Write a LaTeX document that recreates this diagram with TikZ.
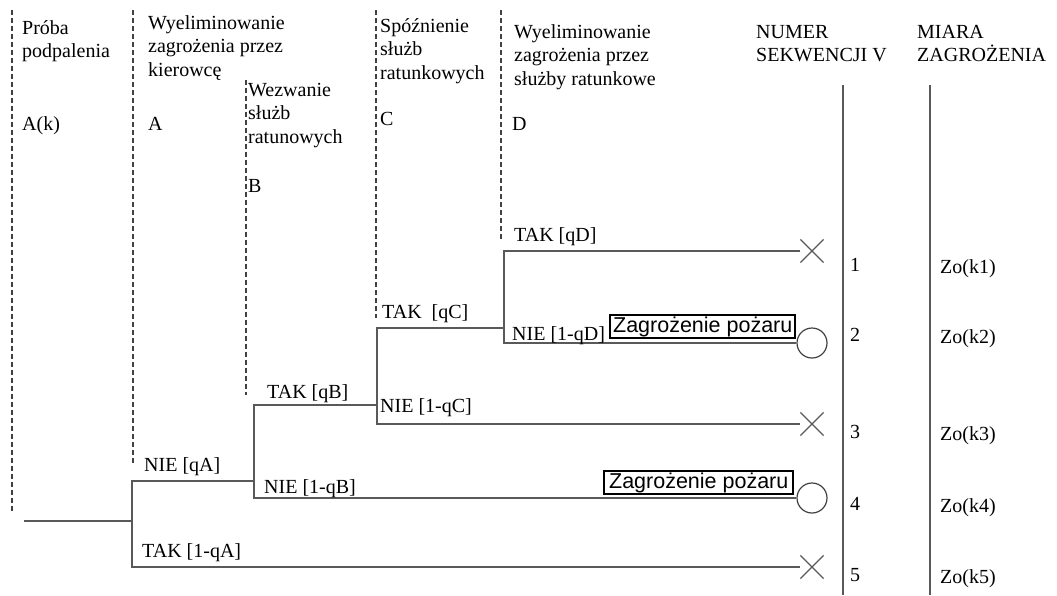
\documentclass[tikz,border=0pt]{standalone}
\usepackage{fontspec}
\setmainfont{Liberation Serif}
\newfontfamily\bezszeryf{Liberation Sans}
\usetikzlibrary{shapes.misc}

\tikzset{
  galaz/.style={line width=1.5pt, black!65},
  podzial/.style={line width=1.3pt, black!75, dash pattern=on 5pt off 3pt},
  opis/.style={anchor=base west, inner sep=0pt, font=\fontsize{20}{23.5}\selectfont},
  naglowek/.style={anchor=north west, inner sep=0pt, align=left, font=\fontsize{20}{23.5}\selectfont},
  krzyz/.style={draw=black!65, line width=1.2pt, cross out, minimum size=22pt, inner sep=0pt},
  kolko/.style={draw=black!75, line width=1.2pt, circle, minimum size=30pt, inner sep=0pt},
  pozar/.style={draw, line width=2pt, inner xsep=3pt, inner ysep=1.5pt, anchor=south east, font=\bezszeryf\fontsize{21.5}{24}\selectfont}
}

\begin{document}
\begin{tikzpicture}[x=1pt, y=-1pt]
  \useasboundingbox (0,0) rectangle (1057,595);

  % kolumny drzewa
  \draw[podzial] (12,10) -- (12,512);
  \draw[podzial] (133,10) -- (133,463);
  \draw[podzial] (246,80) -- (246,395);
  \draw[podzial] (376,10) -- (376,318);
  \draw[podzial] (501,10) -- (501,240);

  \draw[galaz] (843,85) -- (843,595);
  \draw[galaz] (930,85) -- (930,595);

  % naglowki
  \node[naglowek] (hAk) at (22,20) {Próba\\podpalenia};
  \node[opis] (lAk) at (22,130) {A(k)};

  \node[naglowek] (hA) at (148,15) {Wyeliminowanie\\zagrożenia przez\\kierowcę};
  \node[opis] (lA) at (148,130) {A};

  \node[naglowek] (hB) at (248,83) {Wezwanie\\służb\\ratunowych};
  \node[opis] (lB) at (248,192) {B};

  \node[naglowek] (hC) at (380,18) {Spóźnienie\\służb\\ratunkowych};
  \node[opis] (lC) at (380,125) {C};

  \node[naglowek] (hD) at (514,24) {Wyeliminowanie\\zagrożenia przez\\służby ratunkowe};
  \node[opis] (lD) at (512,130) {D};

  \node[naglowek] (hV) at (756,25) {NUMER\\SEKWENCJI V};
  \node[naglowek] (hZo) at (917,25) {MIARA\\ZAGROŻENIA};

  % zakonczenia sekwencji
  \node[krzyz] (e1) at (812,251) {};
  \node[kolko] (e2) at (812,343) {};
  \node[krzyz] (e3) at (812,424) {};
  \node[kolko] (e4) at (812,498) {};
  \node[krzyz] (e5) at (812,567) {};

  \node[pozar] (p2) at ([yshift=4pt]e2.west) {Zagrożenie pożaru};
  \node[pozar, inner xsep=5pt] (p4) at ([yshift=3pt,xshift=-2pt]e4.west) {Zagrożenie pożaru};

  % rozgalezienia
  \coordinate (start) at (24,521);
  \coordinate (wA) at (132,521);
  \coordinate (wB) at (254,481);
  \coordinate (wC) at (377,405);
  \coordinate (wD) at (504,328);

  \draw[galaz] (start) -- (wA);
  \draw[galaz] (wB) -| (wA) |- (e5.west);
  \draw[galaz] (wC) -| (wB) |- (e4.west);
  \draw[galaz] (wD) -| (wC) |- (e3.west);
  \draw[galaz] (e1.west) -| (wD) |- (e2.west);

  \node[opis] (tA) at (142,557) {TAK [1-qA]};
  \node[opis] (nA) at (144,471) {NIE [qA]};
  \node[opis] (tB) at (267,398) {TAK [qB]};
  \node[opis] (nB) at (264,493) {NIE [1-qB]};
  \node[opis] (tC) at (382,318) {TAK\ \ [qC]};
  \node[opis] (nC) at (380,412) {NIE [1-qC]};
  \node[opis] (tD) at (514,241) {TAK [qD]};
  \node[opis] (nD) at (512,340) {NIE [1-qD]};

  % numery i miary
  \node[opis] (v1) at (850,271) {1};
  \node[opis] (v2) at (850,341) {2};
  \node[opis] (v3) at (850,438) {3};
  \node[opis] (v4) at (850,510) {4};
  \node[opis] (v5) at (850,581) {5};

  \node[opis] (zo1) at (940,273) {Zo(k1)};
  \node[opis] (zo2) at (940,343) {Zo(k2)};
  \node[opis] (zo3) at (940,440) {Zo(k3)};
  \node[opis] (zo4) at (940,512) {Zo(k4)};
  \node[opis] (zo5) at (940,583) {Zo(k5)};

\end{tikzpicture}
\end{document}
